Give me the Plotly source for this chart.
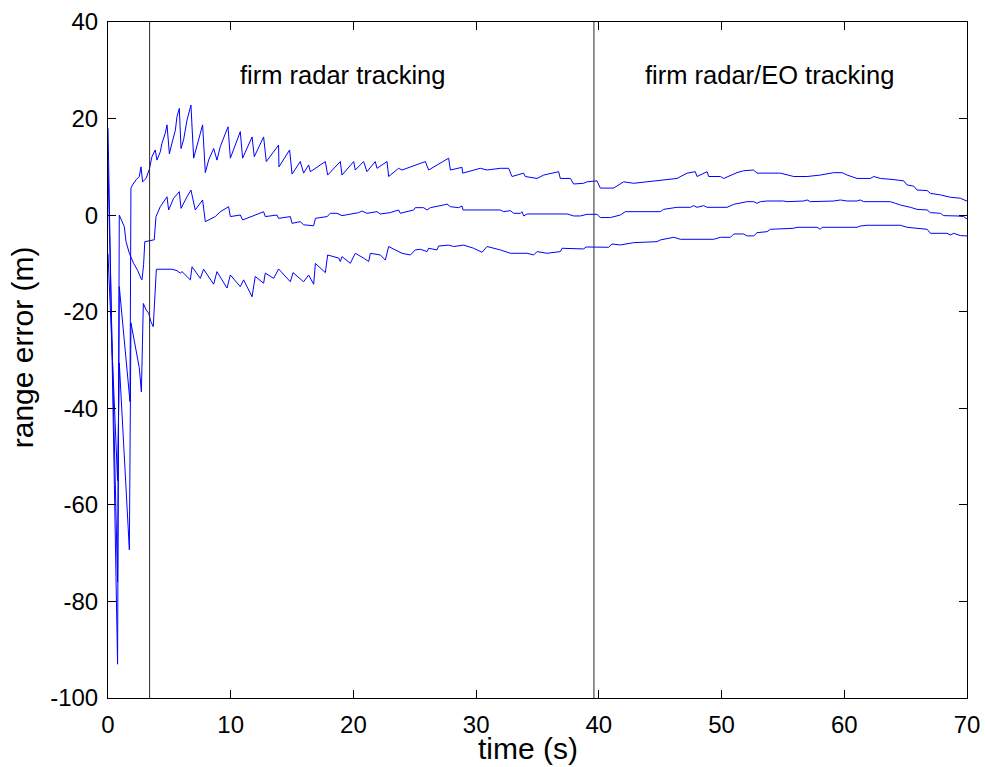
import plotly.graph_objects as go

# ---- data (time in s, range error in m) ----
upper_t = [0, 0.78, 0.92, 1.79, 1.87, 2.0, 2.28, 2.55, 2.69, 2.82, 3.1, 3.37, 3.58, 3.85, 3.99, 4.26, 4.4, 4.67, 4.81, 5.0,
           5.21, 5.49, 5.62, 5.81, 5.95, 6.16, 6.44, 6.76, 6.98, 7.25, 7.71, 7.93, 8.2, 8.61, 8.88, 9.15, 9.78, 9.97, 10.78, 10.97,
           11.74, 11.92, 12.68, 12.9, 13.9, 13.93, 14.8, 15.0, 15.67, 15.94, 16.35, 16.49, 17.71, 17.9, 18.93, 19.07, 20.02, 20.15, 20.83, 21.1,
           21.78, 21.92, 22.74, 22.87, 23.68, 23.96, 25.18, 25.86, 26.13, 26.81, 27.76, 27.9, 28.85, 28.9, 30.34, 30.89, 31.97, 32.65, 32.92, 33.87,
           34.0, 34.96, 35.5, 36.72, 36.86, 37.68, 37.95, 38.76, 39.04, 39.85, 40.12, 41.2, 42.02, 42.84, 43.93, 45.56, 46.37, 47.19, 47.86, 48.0,
           48.82, 48.95, 49.9, 50.17, 51.26, 51.8, 52.6, 52.89, 53.98, 54.8, 55.88, 56.97, 58.05, 59.14, 59.82, 60.23, 61.04, 62.13, 62.4, 62.94,
           63.89, 64.84, 65.12, 65.66, 65.93, 66.75, 67.02, 67.83, 68.65, 69.46, 70.0]
upper_v = [10, -76, -14.8, -38.6, 5.6, 6.25, 7.3, 8.0, 10.0, 6.9, 7.6, 9.5, 12.1, 13.5, 11.4, 13.1, 14.9, 17.0, 18.7, 12.7,
           14.9, 17.6, 20.4, 22.1, 13.8, 15.6, 19.7, 22.8, 11.8, 14.2, 18.7, 8.8, 11.4, 13.8, 11.4, 14.2, 18.3, 11.8, 17.3, 11.8,
           16.2, 12.1, 16.2, 11.1, 14.5, 10.0, 13.5, 8.5, 11.1, 8.7, 10.4, 9.0, 11.1, 8.3, 11.1, 8.3, 11.1, 9.35, 11.1, 9.0,
           11.1, 9.7, 11.1, 8.0, 9.7, 9.35, 10.4, 11.1, 9.35, 10.4, 11.8, 9.35, 9.9, 8.7, 9.7, 9.35, 9.7, 9.7, 8.0, 8.7,
           8.0, 7.6, 8.3, 9.0, 7.6, 7.6, 6.45, 6.6, 6.9, 7.1, 5.6, 5.6, 6.9, 6.6, 6.9, 7.3, 7.6, 8.7, 9.0, 8.0,
           9.0, 8.0, 8.0, 7.6, 8.8, 9.2, 9.35, 8.7, 8.7, 8.7, 8.0, 8.0, 8.3, 8.8, 8.8, 8.3, 7.6, 7.6, 8.0, 7.6,
           7.4, 7.1, 6.25, 6.0, 5.2, 5.1, 4.5, 4.2, 3.7, 3.5, 2.9]

middle_t = [0, 0.78, 0.92, 1.33, 1.47, 1.74, 2.09, 2.41, 2.69, 2.77, 2.9, 3.0, 3.77, 3.91, 4.26, 4.81, 4.94, 5.35, 5.81, 5.95,
            6.44, 6.76, 7.11, 7.71, 7.93, 8.74, 9.15, 9.83, 9.97, 10.78, 10.97, 12.68, 12.82, 13.77, 13.9, 14.86, 15.0, 15.67, 15.94, 16.76,
            16.9, 17.85, 18.12, 18.66, 19.07, 19.75, 20.43, 20.7, 21.1, 21.92, 22.19, 23.0, 23.68, 23.82, 24.91, 25.04, 25.72, 26.0, 26.27, 27.35,
            27.63, 27.9, 28.57, 28.85, 28.93, 31.97, 32.24, 32.79, 33.06, 33.6, 33.74, 33.87, 34.15, 37.41, 37.95, 38.49, 39.04, 39.85, 40.12, 40.94,
            41.75, 42.16, 45.01, 45.28, 46.37, 47.46, 47.73, 48.0, 48.54, 48.82, 50.45, 50.99, 51.8, 52.08, 52.62, 52.89, 53.16, 53.71, 55.06, 55.34,
            56.69, 56.97, 57.24, 59.14, 59.68, 60.23, 61.04, 61.31, 61.58, 63.76, 64.16, 64.57, 65.39, 65.93, 66.75, 67.02, 67.83, 68.1, 69.19, 69.73,
            70.0]
middle_v = [18, -93, 0.0, -2.4, -5.5, -7.9, -10.0, -11.4, -13.1, -13.4, -10.3, -5.5, -5.1, -0.3, 1.75, 3.8, 1.07, 3.5, 4.86, 1.4,
            3.8, 5.2, 1.07, 3.14, -1.35, -0.3, 0.7, 1.75, -0.3, 0.03, -1.0, 0.7, -0.3, 0.03, -0.66, -0.3, -1.7, -1.35, -2.0, -2.2,
            -0.66, -0.3, 0.38, 0.38, -0.1, 0.24, 0.52, 0.86, 0.38, 0.72, 0.24, 0.52, 1.07, 0.38, 1.07, 1.55, 1.55, 1.07, 1.55, 2.1,
            2.3, 1.75, 1.55, 1.9, 1.07, 1.07, 0.72, 0.93, 0.38, 0.38, 0.72, -0.17, 0.24, 0.24, -0.17, -0.17, 0.17, 0.17, -0.5, -0.5,
            0.03, 0.72, 0.72, 1.2, 1.62, 1.62, 1.97, 1.62, 1.97, 1.62, 1.62, 2.24, 2.58, 2.79, 2.79, 2.45, 2.79, 2.93, 2.93, 2.79,
            2.93, 3.14, 2.79, 2.93, 3.14, 2.93, 2.93, 3.14, 2.79, 2.79, 2.45, 2.1, 1.62, 1.2, 1.07, 0.52, 0.38, -0.1, -0.17, -0.3,
            -0.8]

lower_t = [0, 0.78, 0.92, 1.74, 1.87, 2.25, 2.55, 2.72, 2.88, 3.1, 3.31, 3.5, 3.69, 3.94, 5.21, 5.62, 5.89, 6.03, 6.71, 6.85,
           7.52, 7.79, 8.61, 8.88, 9.7, 9.97, 10.78, 11.05, 11.74, 12.0, 12.68, 12.82, 13.5, 13.9, 14.86, 15.08, 15.94, 16.35, 16.76, 16.9,
           17.71, 17.9, 18.8, 18.93, 19.07, 19.75, 20.15, 20.83, 21.24, 21.38, 22.19, 22.6, 22.87, 23.14, 23.96, 24.64, 25.04, 25.45, 26.0, 26.13,
           26.81, 26.94, 27.76, 28.17, 28.98, 29.8, 30.48, 30.89, 31.97, 32.79, 34.15, 34.69, 34.96, 35.78, 36.32, 36.86, 37.0, 37.95, 38.76, 38.96,
           40.12, 40.8, 41.07, 41.75, 42.84, 44.74, 45.01, 46.1, 46.64, 49.36, 49.9, 50.72, 50.99, 51.8, 52.08, 52.62, 52.89, 53.71, 53.98, 55.88,
           56.15, 57.78, 58.05, 58.19, 61.04, 61.31, 61.86, 64.57, 65.12, 66.75, 67.02, 68.38, 68.65, 68.92, 69.46, 70.0]
lower_v = [-8, -55, -30.6, -69.3, -22.3, -27.2, -31.6, -36.6, -18.3, -19.6, -20.3, -22.1, -23.1, -11.2, -11.2, -11.5, -12.0, -11.7, -13.4, -10.7,
           -13.1, -11.2, -14.3, -11.7, -15.1, -12.4, -14.8, -13.4, -16.9, -12.7, -14.1, -12.0, -13.1, -11.15, -13.8, -11.9, -13.8, -12.4, -14.3, -10.0,
           -11.9, -8.25, -8.9, -9.6, -8.6, -9.97, -7.9, -8.9, -9.6, -7.9, -8.25, -9.3, -6.5, -6.86, -7.9, -8.25, -7.2, -7.07, -7.55, -6.86,
           -7.2, -6.4, -6.2, -6.5, -6.2, -6.86, -7.7, -6.5, -7.2, -7.9, -7.9, -8.25, -7.55, -7.9, -7.8, -7.55, -6.86, -6.86, -7.0, -6.6,
           -6.65, -6.65, -5.97, -6.18, -5.7, -5.49, -5.14, -4.59, -5.0, -5.0, -4.59, -4.59, -3.9, -3.9, -4.3, -4.3, -3.63, -3.42, -2.93, -2.72,
           -2.52, -2.52, -2.93, -2.52, -2.52, -2.24, -2.1, -2.1, -2.52, -2.93, -3.76, -3.76, -4.1, -3.76, -4.24, -4.3]

phase_times = [3.39, 39.6]
phase_labels = ["firm radar tracking", "firm radar/EO tracking"]
phase_label_x = [19.1, 53.9]
phase_label_y = 29

x_title = "time (s)"
y_title = "range error (m)"

x_ticks = [0, 10, 20, 30, 40, 50, 60, 70]
x_tick_text = ["0", "10", "20", "30", "40", "50", "60", "70"]
y_ticks = [-100, -80, -60, -40, -20, 0, 20, 40]
y_tick_text = ["-100", "-80", "-60", "-40", "-20", "0", "20", "40"]

assert len(upper_t) == len(upper_v)
assert len(middle_t) == len(middle_v)
assert len(lower_t) == len(lower_v)

FONT = "Liberation Sans, Arial, sans-serif"
fig = go.Figure()

for t, v in [(upper_t, upper_v), (middle_t, middle_v), (lower_t, lower_v)]:
    fig.add_trace(go.Scatter(x=t, y=v, mode="lines",
                             line=dict(color="rgb(0,0,255)", width=1),
                             showlegend=False, hoverinfo="skip"))

for pt in phase_times:
    fig.add_trace(go.Scatter(x=[pt, pt], y=[y_ticks[0], y_ticks[-1]], mode="lines",
                             line=dict(color="rgb(40,40,40)", width=1),
                             showlegend=False, hoverinfo="skip"))

for txt, px in zip(phase_labels, phase_label_x):
    fig.add_annotation(x=px, y=phase_label_y, text=txt, showarrow=False,
                       font=dict(family=FONT, size=25.5, color="black"),
                       xanchor="center", yanchor="middle")

# axis titles placed as paper-referenced annotations (MATLAB-like placement)
fig.add_annotation(xref="paper", yref="paper", x=0.489, y=-0.074, text=x_title, showarrow=False,
                   font=dict(family=FONT, size=30, color="black"), xanchor="center", yanchor="middle")
fig.add_annotation(xref="paper", yref="paper", x=-0.1, y=0.519, text=y_title, showarrow=False, textangle=-90,
                   font=dict(family=FONT, size=30, color="black"), xanchor="center", yanchor="middle")

axis_common = dict(showline=True, linecolor="black", linewidth=1, mirror="ticks",
                   ticks="inside", ticklen=8, tickwidth=1, tickcolor="black",
                   showgrid=False, zeroline=False, automargin=False,
                   tickfont=dict(family=FONT, size=24, color="black"))

fig.update_xaxes(range=[0, 70], tickvals=x_ticks, ticktext=x_tick_text, ticklabelstandoff=5, **axis_common)
fig.update_yaxes(range=[-100, 40], tickvals=y_ticks, ticktext=y_tick_text, ticklabelstandoff=4, **axis_common)

fig.update_layout(width=985, height=767, paper_bgcolor="white", plot_bgcolor="white",
                  margin=dict(l=108, r=18, t=22, b=69), showlegend=False)

# remove the browser's default 8 px page margin so the figure fills the window exactly
fig.write_html("out.html", config={"displayModeBar": False},
               post_script="document.body.style.margin='0';document.body.style.overflow='hidden';")
